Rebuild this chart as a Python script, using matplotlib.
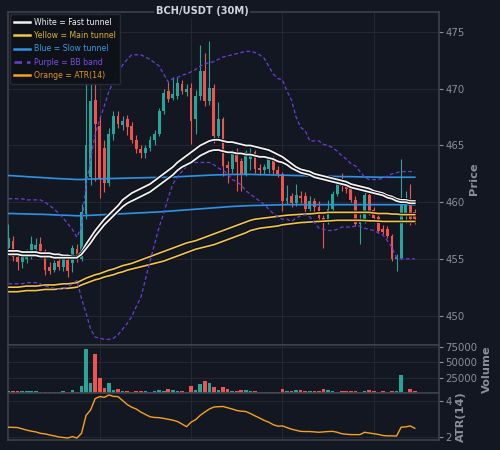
import matplotlib.pyplot as plt
import matplotlib.patheffects as pe
from matplotlib.lines import Line2D

# Candles (30M)
opens = [456.0, 456.6, 455.2, 454.7, 455.0, 455.3, 455.9, 456.3, 455.7, 454.3,
         454.0, 454.8, 454.3, 454.9, 454.6, 455.9, 455.0, 459.0, 462.2, 469.0,
         466.7, 464.8, 461.7, 466.0, 467.6, 466.8, 467.3, 466.7, 465.5, 464.7,
         464.3, 464.8, 465.5, 466.0, 468.0, 469.8, 469.2, 469.4, 470.4, 469.7,
         470.1, 467.3, 469.4, 471.6, 468.9, 470.1, 465.8, 467.3, 463.3, 462.9,
         464.4, 463.6, 462.5, 463.8, 464.4, 463.0, 462.8, 462.9, 463.8, 462.8,
         462.5, 460.1, 460.5, 459.9, 460.5, 460.5, 459.4, 460.1, 459.6, 458.6,
         458.4, 459.4, 460.7, 461.7, 461.4, 461.3, 460.2, 458.1, 458.4, 460.6,
         459.3, 458.7, 457.6, 457.6, 457.0, 455.0, 455.1, 459.0, 460.3, 459.1]
highs = [458.1, 457.0, 455.5, 455.6, 455.9, 457.0, 456.8, 456.9, 455.9, 454.7,
         454.9, 455.6, 455.3, 455.2, 456.2, 456.3, 459.8, 471.3, 471.5, 471.3,
         467.5, 465.5, 466.5, 468.0, 468.0, 467.6, 467.7, 467.1, 465.9, 465.0,
         465.0, 465.8, 466.4, 468.3, 470.0, 470.6, 471.0, 471.0, 470.8, 470.4,
         470.5, 469.9, 473.9, 473.2, 474.2, 470.4, 468.8, 467.5, 463.6, 464.6,
         464.8, 463.9, 464.6, 464.8, 464.6, 463.4, 463.4, 464.0, 464.1, 463.2,
         462.7, 461.5, 460.8, 461.6, 461.0, 460.9, 460.5, 460.4, 460.1, 458.9,
         460.2, 461.0, 462.2, 462.6, 461.7, 461.5, 460.5, 459.0, 461.3, 460.9,
         459.6, 458.9, 458.0, 457.9, 457.2, 455.4, 463.8, 461.0, 461.6, 459.4]
lows = [455.7, 454.8, 454.0, 454.2, 454.6, 455.0, 455.5, 455.4, 453.6, 453.7,
        453.8, 454.0, 453.9, 453.4, 453.8, 454.7, 454.8, 458.5, 461.5, 461.9,
        460.4, 460.9, 461.4, 465.5, 466.5, 466.4, 465.9, 465.2, 464.3, 463.9,
        463.9, 464.5, 465.0, 465.8, 467.8, 468.8, 469.0, 469.1, 469.5, 469.4,
        465.1, 466.0, 469.0, 468.5, 468.6, 465.2, 465.5, 462.3, 461.7, 462.6,
        461.0, 461.0, 462.3, 462.8, 462.6, 462.4, 462.5, 462.6, 462.5, 462.2,
        459.2, 459.8, 459.6, 459.7, 459.9, 459.1, 459.2, 459.1, 458.3, 456.0,
        458.1, 459.1, 460.5, 461.0, 460.8, 460.0, 457.9, 456.3, 458.2, 458.9,
        458.3, 457.3, 457.2, 456.8, 454.8, 453.9, 455.0, 458.2, 458.0, 458.1]
closes = [456.8, 455.2, 454.7, 455.2, 455.4, 456.3, 456.2, 455.7, 454.0, 453.9,
          454.6, 454.3, 455.0, 453.9, 456.0, 455.0, 459.1, 465.0, 468.9, 466.9,
          462.1, 461.7, 466.0, 467.6, 466.9, 467.2, 466.6, 465.5, 464.7, 464.3,
          464.8, 465.5, 466.0, 468.0, 469.6, 469.1, 469.5, 470.5, 469.8, 470.0,
          467.2, 469.4, 471.6, 468.9, 470.1, 465.8, 467.3, 463.2, 463.0, 464.4,
          463.5, 462.5, 464.4, 464.2, 462.9, 462.8, 463.1, 463.8, 462.8, 462.5,
          460.1, 460.4, 459.9, 460.6, 460.4, 459.4, 460.1, 459.6, 458.6, 458.4,
          459.4, 460.7, 461.7, 461.4, 461.2, 460.2, 458.1, 458.4, 460.6, 459.1,
          458.6, 457.5, 457.4, 457.0, 455.0, 455.2, 459.8, 460.3, 458.5, 458.5]
volume = [3800, 3500, 3200, 3000, 3600, 2800, 2500, 2200, 2200, 2000,
          1900, 1900, 3200, 2000, 4500, 2400, 10800, 71900, 16300, 62600,
          24500, 8200, 16300, 5500, 6000, 2600, 3800, 2200, 3400, 3600,
          2800, 2400, 3000, 5500, 3800, 5800, 4800, 3000, 3400, 2200,
          10800, 5200, 14700, 19300, 16300, 9800, 5500, 10000, 5800, 3000,
          2500, 4400, 4400, 4000, 2800, 2200, 2000, 2200, 2000, 2200,
          6000, 2600, 2800, 4400, 4400, 4000, 3800, 2800, 3000, 6000,
          4800, 3000, 2200, 3200, 3000, 2600, 2800, 2200, 3800, 4300,
          2600, 2200, 3000, 2300, 3200, 3800, 28800, 2100, 6000, 3500]

# Fast tunnel (white)
fast_hi = [455.7, 455.7, 455.7, 455.6, 455.6, 455.6, 455.6, 455.5, 455.5, 455.5,
           455.4, 455.4, 455.3, 455.3, 455.2, 455.2, 455.6, 456.3, 456.9, 457.5,
           458.0, 458.5, 458.9, 459.3, 459.7, 460.2, 460.5, 460.8, 461.0, 461.2,
           461.4, 461.6, 461.9, 462.2, 462.5, 462.8, 463.1, 463.5, 463.8, 464.1,
           464.4, 464.7, 465.0, 465.2, 465.4, 465.5, 465.5, 465.4, 465.3, 465.3,
           465.2, 465.1, 465.0, 465.0, 464.9, 464.8, 464.7, 464.6, 464.4, 464.2,
           464.0, 463.7, 463.4, 463.1, 462.9, 462.8, 462.7, 462.5, 462.4, 462.3,
           462.2, 462.1, 462.0, 461.9, 461.8, 461.6, 461.5, 461.4, 461.3, 461.2,
           461.0, 460.9, 460.8, 460.6, 460.5, 460.3, 460.2, 460.2, 460.1, 460.1]
fast_lo = [455.4, 455.4, 455.4, 455.3, 455.3, 455.3, 455.3, 455.2, 455.2, 455.2,
           455.1, 455.1, 455.1, 455.1, 455.1, 455.1, 455.4, 455.9, 456.4, 457.0,
           457.5, 458.0, 458.4, 458.8, 459.2, 459.6, 459.9, 460.1, 460.3, 460.5,
           460.7, 460.9, 461.2, 461.5, 461.8, 462.1, 462.4, 462.8, 463.1, 463.3,
           463.5, 463.8, 464.1, 464.3, 464.5, 464.6, 464.6, 464.5, 464.4, 464.4,
           464.3, 464.3, 464.2, 464.2, 464.1, 464.0, 464.0, 463.9, 463.8, 463.6,
           463.5, 463.3, 463.0, 462.8, 462.6, 462.5, 462.4, 462.2, 462.1, 462.0,
           461.9, 461.8, 461.7, 461.6, 461.5, 461.3, 461.2, 461.1, 461.0, 460.9,
           460.8, 460.7, 460.6, 460.4, 460.3, 460.1, 460.0, 460.0, 459.9, 459.9]
# Main tunnel (yellow)
main_hi = [452.5, 452.5, 452.5, 452.55, 452.6, 452.6, 452.6, 452.65, 452.7, 452.7,
           452.7, 452.75, 452.8, 452.8, 452.85, 452.9, 453.1, 453.3, 453.45, 453.6,
           453.7, 453.85, 454.0, 454.1, 454.25, 454.4, 454.5, 454.6, 454.75, 454.9,
           455.05, 455.2, 455.35, 455.5, 455.65, 455.8, 455.95, 456.1, 456.25, 456.4,
           456.5, 456.6, 456.75, 456.9, 457.05, 457.2, 457.35, 457.5, 457.65, 457.8,
           457.95, 458.1, 458.25, 458.4, 458.5, 458.55, 458.6, 458.65, 458.7, 458.75,
           458.8, 458.85, 458.88, 458.9, 458.93, 458.95, 458.97, 459.0, 459.05, 459.05,
           459.1, 459.1, 459.1, 459.1, 459.1, 459.1, 459.1, 459.1, 459.1, 459.1,
           459.05, 459.0, 459.0, 459.0, 458.95, 458.95, 458.9, 458.9, 458.9, 458.9]
main_lo = [452.1, 452.1, 452.1, 452.15, 452.2, 452.2, 452.2, 452.25, 452.3, 452.3,
           452.3, 452.35, 452.4, 452.4, 452.45, 452.5, 452.7, 452.85, 453.0, 453.15,
           453.25, 453.4, 453.5, 453.6, 453.75, 453.85, 454.0, 454.1, 454.2, 454.3,
           454.4, 454.5, 454.6, 454.7, 454.8, 454.95, 455.1, 455.25, 455.4, 455.55,
           455.7, 455.85, 455.95, 456.05, 456.15, 456.25, 456.4, 456.55, 456.7, 456.85,
           457.0, 457.15, 457.3, 457.5, 457.6, 457.7, 457.75, 457.8, 457.85, 457.9,
           458.0, 458.05, 458.1, 458.15, 458.2, 458.22, 458.25, 458.28, 458.3, 458.32,
           458.35, 458.37, 458.4, 458.4, 458.4, 458.4, 458.4, 458.4, 458.38, 458.36,
           458.35, 458.33, 458.3, 458.3, 458.3, 458.3, 458.3, 458.3, 458.3, 458.3]
# Slow tunnel (blue)
slow_hi = [462.35, 462.33, 462.3, 462.28, 462.25, 462.22, 462.2, 462.18, 462.15, 462.13,
           462.1, 462.08, 462.06, 462.04, 462.02, 462.0, 462.0, 462.02, 462.04, 462.05,
           462.06, 462.07, 462.08, 462.09, 462.1, 462.11, 462.12, 462.13, 462.14, 462.15,
           462.16, 462.17, 462.18, 462.19, 462.2, 462.2, 462.22, 462.24, 462.26, 462.28,
           462.3, 462.32, 462.34, 462.36, 462.38, 462.4, 462.41, 462.42, 462.43, 462.44,
           462.45, 462.45, 462.45, 462.45, 462.44, 462.43, 462.42, 462.41, 462.4, 462.39,
           462.38, 462.37, 462.36, 462.35, 462.34, 462.33, 462.32, 462.31, 462.3, 462.3,
           462.29, 462.28, 462.27, 462.26, 462.25, 462.25, 462.24, 462.23, 462.22, 462.22,
           462.21, 462.2, 462.2, 462.2, 462.2, 462.2, 462.2, 462.2, 462.2, 462.2]
slow_lo = [459.0, 459.0, 458.98, 458.97, 458.96, 458.95, 458.94, 458.93, 458.92, 458.9,
           458.88, 458.86, 458.85, 458.84, 458.82, 458.8, 458.8, 458.82, 458.84, 458.86,
           458.88, 458.9, 458.92, 458.94, 458.96, 458.98, 459.0, 459.02, 459.04, 459.06,
           459.08, 459.1, 459.12, 459.14, 459.17, 459.2, 459.23, 459.26, 459.29, 459.32,
           459.35, 459.38, 459.41, 459.44, 459.47, 459.5, 459.53, 459.56, 459.59, 459.62,
           459.64, 459.66, 459.68, 459.7, 459.71, 459.72, 459.73, 459.74, 459.75, 459.76,
           459.77, 459.78, 459.78, 459.78, 459.78, 459.78, 459.78, 459.78, 459.78, 459.78,
           459.78, 459.78, 459.78, 459.78, 459.78, 459.78, 459.78, 459.78, 459.78, 459.78,
           459.78, 459.78, 459.78, 459.78, 459.78, 459.78, 459.78, 459.78, 459.78, 459.78]
# Bollinger band (purple)
bb_up = [460.3, 460.3, 460.3, 460.3, 460.2, 460.2, 460.2, 460.2, 460.0, 459.7,
         459.4, 459.0, 458.6, 458.1, 457.6, 456.9, 457.9, 461.5, 463.8, 466.0,
         467.3, 468.5, 469.8, 470.6, 471.4, 472.1, 472.6, 473.0, 473.0, 473.0,
         472.8, 472.6, 472.3, 472.0, 471.3, 470.6, 470.9, 471.0, 471.2, 471.3,
         471.5, 471.7, 472.0, 472.2, 472.3, 472.4, 472.6, 472.8, 472.9, 473.0,
         473.1, 473.2, 473.3, 473.3, 473.2, 473.0, 472.7, 472.0, 471.3, 470.9,
         470.8, 469.8, 469.0, 467.5, 466.6, 466.3, 465.4, 465.4, 465.4, 465.1,
         465.0, 464.8, 464.5, 464.1, 463.8, 463.4, 463.2, 462.7, 462.2, 462.0,
         462.0, 462.0, 462.1, 462.3, 462.5, 462.6, 462.7, 462.7, 462.7, 462.7]
bb_lo = [452.8, 452.8, 452.8, 452.8, 452.9, 452.9, 452.9, 452.8, 452.6, 452.5,
         452.4, 452.3, 452.4, 452.5, 452.8, 453.1, 451.5, 450.2, 448.8, 448.1,
         448.0, 447.9, 447.9, 448.0, 448.3, 448.8, 449.3, 449.9, 450.8, 451.6,
         453.2, 454.8, 456.3, 457.8, 459.0, 460.4, 461.6, 462.2, 462.7, 463.2,
         463.5, 463.5, 463.5, 463.5, 463.5, 463.3, 463.0, 462.8, 462.5, 462.0,
         461.8, 461.5, 461.0, 460.7, 460.4, 460.1, 459.8, 459.4, 459.0, 458.7,
         458.5, 458.5, 458.3, 458.6, 458.8, 458.9, 458.7, 458.2, 457.7, 457.6,
         457.5, 457.5, 457.6, 457.8, 457.8, 457.8, 457.9, 457.9, 457.7, 457.6,
         457.5, 457.3, 457.1, 456.6, 456.0, 455.1, 455.0, 455.0, 455.0, 455.0]
atr = [2.54, 2.53, 2.52, 2.45, 2.38, 2.32, 2.28, 2.20, 2.17, 2.11,
       2.06, 2.00, 1.97, 1.94, 2.02, 1.94, 2.20, 3.20, 3.50, 4.13,
       4.24, 4.20, 4.33, 4.25, 4.24, 4.02, 3.80, 3.65, 3.55, 3.38,
       3.25, 3.12, 3.08, 3.07, 3.03, 2.98, 2.93, 2.86, 2.72, 2.57,
       2.82, 2.96, 3.20, 3.38, 3.55, 3.66, 3.68, 3.69, 3.62, 3.55,
       3.47, 3.43, 3.41, 3.30, 3.17, 3.05, 2.92, 2.82, 2.68, 2.60,
       2.61, 2.52, 2.43, 2.37, 2.31, 2.30, 2.30, 2.28, 2.26, 2.28,
       2.30, 2.31, 2.26, 2.18, 2.15, 2.13, 2.13, 2.13, 2.26, 2.22,
       2.18, 2.14, 2.08, 2.06, 2.06, 2.05, 2.54, 2.56, 2.61, 2.48]

bg = "#131722"
grid_c = "#242833"
spine_c = "#3c404b"
tick_c = "#8b8f99"
up_c = "#26a69a"
down_c = "#ef5350"
white_c = "#f2f2f2"
yellow_c = "#f2c744"
blue_c = "#2e93e6"
purple_c = "#6b3fd6"
orange_c = "#f5a31f"

idx = list(range(len(closes)))
colors = [up_c if c >= o else down_c for o, c in zip(opens, closes)]

fig = plt.figure(figsize=(5, 4.5), dpi=100, facecolor=bg)
ax1 = fig.add_axes([0.016, 0.2333, 0.862, 0.7407])
ax2 = fig.add_axes([0.016, 0.1267, 0.862, 0.1066], sharex=ax1)
ax3 = fig.add_axes([0.016, 0.0222, 0.862, 0.1045], sharex=ax1)

for ax in (ax1, ax2, ax3):
    ax.set_facecolor(bg)
    for s in ax.spines.values():
        s.set_color(spine_c)
        s.set_linewidth(1.2)
    ax.yaxis.tick_right()
    ax.yaxis.set_label_position("right")
    ax.tick_params(axis="y", colors=tick_c, labelsize=7.3, length=3, width=0.8, pad=1.5)
    ax.tick_params(axis="x", labelbottom=False, length=0)
    ax.set_xticks([20, 40, 60, 80])
    ax.grid(True, color=grid_c, linewidth=0.7)
    ax.set_axisbelow(True)

# candles
ax1.vlines(idx, lows, highs, colors=colors, linewidth=0.8, zorder=3)
ax1.bar(idx, [abs(c - o) for o, c in zip(opens, closes)],
        bottom=[min(o, c) for o, c in zip(opens, closes)],
        width=0.62, color=colors, linewidth=0, zorder=4)

outline = [pe.Stroke(linewidth=2.6, foreground="#0a0c12"), pe.Normal()]
ax1.plot(idx, fast_hi, color=white_c, lw=1.3, path_effects=outline, zorder=6)
ax1.plot(idx, fast_lo, color=white_c, lw=1.3, path_effects=outline, zorder=6)
ax1.plot(idx, main_hi, color=yellow_c, lw=1.2, path_effects=outline, zorder=5)
ax1.plot(idx, main_lo, color=yellow_c, lw=1.2, path_effects=outline, zorder=5)
ax1.plot(idx, slow_hi, color=blue_c, lw=1.2, zorder=5)
ax1.plot(idx, slow_lo, color=blue_c, lw=1.2, zorder=5)
ax1.plot(idx, bb_up, color=purple_c, lw=0.9, ls=(0, (3, 2)), zorder=5)
ax1.plot(idx, bb_lo, color=purple_c, lw=0.9, ls=(0, (3, 2)), zorder=5)

ax1.set_xlim(-0.1, 94.3)
ax1.set_ylim(447.4, 476.8)
ax1.set_yticks([450, 455, 460, 465, 470, 475])

handles = [
    Line2D([], [], color=white_c, lw=1.8),
    Line2D([], [], color=yellow_c, lw=1.8),
    Line2D([], [], color=blue_c, lw=1.8),
    Line2D([], [], color=purple_c, lw=1.8, ls=(0, (3, 2))),
    Line2D([], [], color=orange_c, lw=1.8),
]
labels = ["White = Fast tunnel", "Yellow = Main tunnel", "Blue = Slow tunnel",
          "Purple = BB band", "Orange = ATR(14)"]
leg = ax1.legend(handles, labels, loc="upper left", fontsize=5.6,
                 facecolor="#0e1118", edgecolor="#2a2e39", framealpha=0.95,
                 borderaxespad=0.3, handlelength=2.0, labelspacing=0.55,
                 borderpad=0.5, handletextpad=0.6)
for txt, c in zip(leg.get_texts(), [white_c, "#d9b43a", "#3a9be6", "#7a4ee0", "#e0952a"]):
    txt.set_color(c)

# volume
ax2.bar(idx, volume, width=0.8, color=colors, linewidth=0, zorder=3)
ax2.set_ylim(0, 78000)
ax2.set_yticks([25000, 50000, 75000])

# ATR
ax3.plot(idx, atr, color=orange_c, lw=1.0, zorder=3)
ax3.set_ylim(1.83, 4.44)
ax3.set_yticks([2, 4])

for ax, name in ((ax1, "Price"), (ax2, "Volume"), (ax3, "ATR(14)")):
    ax.set_ylabel(name, color=tick_c, fontsize=8.2, fontweight="bold", labelpad=3)

fig.text(0.404, 0.975, "BCH/USDT (30M)", color="#d1d4dc", fontsize=7.1, fontweight="bold",
         ha="center", va="center", bbox=dict(facecolor=bg, edgecolor="none", pad=1.5))

fig.savefig("out.png", dpi=100, facecolor=bg)
